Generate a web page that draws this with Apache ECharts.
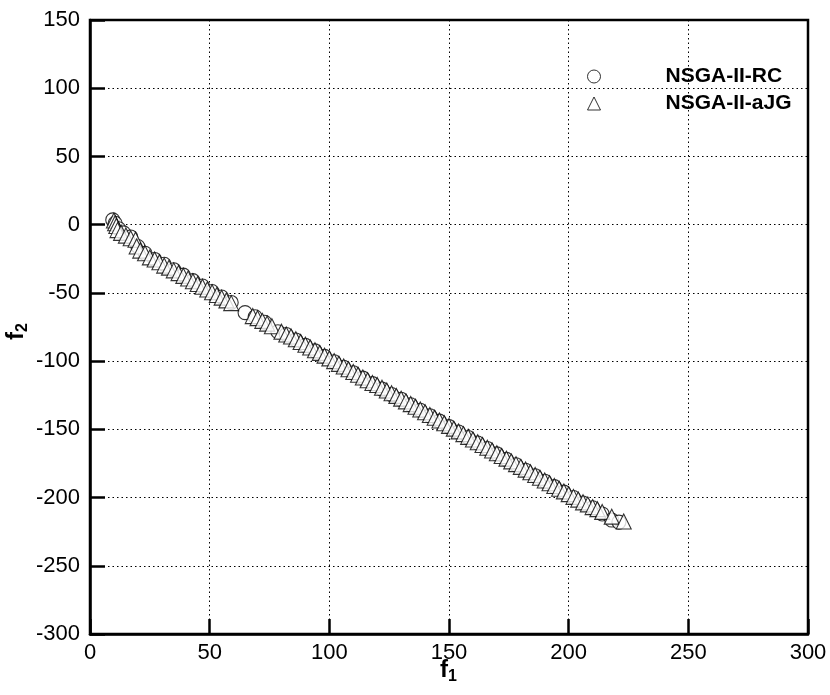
<!DOCTYPE html>
<html>
<head>
<meta charset="utf-8">
<script src="https://cdn.jsdelivr.net/npm/echarts@6/dist/echarts.min.js"></script>
<style>
  html, body { margin: 0; padding: 0; background: #fff; }
  #chart { width: 830px; height: 695px; }
</style>
</head>
<body>
<div id="chart"></div>
<script>
// Pareto front points, objective f1 vs objective f2
const rcF1 = [9.5, 10.5, 12, 14, 17, 20, 23, 27, 31, 35, 39, 43, 47, 51, 55, 59, 64.8, 69, 73, 78.5,
  82, 86, 90, 94, 98, 102, 106, 110, 114, 118, 122, 126, 130, 134, 138, 142, 146, 150, 154, 158,
  162, 166, 170, 174, 178, 182, 186, 190, 194, 198, 202, 206, 210, 214, 218, 221];
const rcF2 = [3.5, 1, -3, -6, -9, -16, -21, -25.5, -29, -33, -37, -41, -45, -49, -53, -57, -64.5, -67.5, -71.5, -78.5,
  -80.5, -84.5, -88.5, -92.5, -96.5, -100.5, -104.5, -108.5, -112.5, -116.5, -120.5, -124.5, -128, -132, -136, -140, -144, -148, -152, -156,
  -160, -164, -168, -172, -176, -180, -184, -188, -192, -196, -200, -204, -207.5, -212, -216.5, -218];

const jgF1 = [10, 10.5, 11, 11.5, 13, 15, 17, 19, 19.5, 21, 23, 25, 27, 29, 31, 33, 35, 37, 39, 41,
  43, 45, 47, 49, 51, 53, 55, 57, 59, 68, 70, 72, 74, 76, 80, 82, 84, 86, 88, 90,
  92, 94, 96, 98, 100, 102, 104, 106, 108, 110, 112, 114, 116, 118, 120, 122, 124, 126, 128, 130,
  132, 134, 136, 138, 140, 142, 144, 146, 148, 150, 152, 154, 156, 158, 160, 162, 164, 166, 168, 170,
  172, 174, 176, 178, 180, 182, 184, 186, 188, 190, 192, 194, 196, 198, 200, 202, 204, 206, 208, 210,
  212, 214, 218, 223];
const jgF2 = [3, 1, -1, -4, -6, -8, -10, -11, -16, -19, -21, -24, -25.5, -27.5, -30, -31.5, -33.5, -35.5, -37.5, -39.5,
  -41.5, -43.5, -45.5, -47.5, -49.5, -51.5, -53.5, -55.5, -57.5, -67, -68.5, -70.5, -72.5, -74.5, -78.5, -80.5, -82, -84, -86, -88,
  -90, -92, -94, -96, -98, -100, -102, -104, -106, -108, -110, -112, -114, -116, -117.5, -119.5, -121.5, -123.5, -125.5, -127.5,
  -129.5, -131.5, -133.5, -135.5, -137.5, -139.5, -141.5, -143.5, -145.5, -147.5, -149.5, -151.5, -153.5, -155.5, -157.5, -159.5, -161.5, -163.5, -165.5, -167.5,
  -169.5, -171.5, -173.5, -175.5, -177.5, -179.5, -181.5, -183.5, -185.5, -187.5, -189.5, -191.5, -193.5, -195.5, -197.5, -199.5, -201.5, -203.5, -205, -207,
  -208.5, -210.5, -214, -217.5];

const seriesNames = ['NSGA-II-RC', 'NSGA-II-aJG'];

const pairs = (xs, ys) => xs.map((x, i) => [x, ys[i]]);

const chart = echarts.init(document.getElementById('chart'));
const FONT = 'Liberation Sans, Arial, Helvetica, sans-serif';
const axisCommon = {
  axisLine: { show: true, onZero: false, lineStyle: { color: '#000', width: 2.5 } },
  axisTick: { show: true, inside: true, length: 15, lineStyle: { color: '#000', width: 2.5 } },
  splitLine: { show: true, lineStyle: { color: '#000', width: 1, type: [1.5, 3] } },
  axisLabel: { color: '#000', fontSize: 22, fontFamily: FONT },
};
const titleRich = {
  a: { fontSize: 24, fontWeight: 'bold', fontFamily: FONT, fill: '#000' },
  b: { fontSize: 16, fontWeight: 'bold', fontFamily: FONT, fill: '#000', padding: [13, 0, 0, 0] }
};

chart.setOption({
  animation: false,
  backgroundColor: '#fff',
  grid: { left: 90, top: 20, right: 22, bottom: 61, show: true, borderColor: '#000', borderWidth: 2.5, containLabel: false },
  xAxis: Object.assign({ type: 'value', min: 0, max: 300, interval: 50 }, axisCommon,
    { axisLabel: Object.assign({}, axisCommon.axisLabel, { margin: 8 }) }),
  yAxis: Object.assign({ type: 'value', min: -300, max: 150, interval: 50 }, axisCommon,
    { axisLabel: Object.assign({}, axisCommon.axisLabel, { margin: 10 }) }),
  legend: {
    orient: 'vertical',
    left: 582, top: 61,
    itemWidth: 13, itemHeight: 13, itemGap: 6,
    data: [
      { name: seriesNames[0], icon: 'circle' },
      { name: seriesNames[1], icon: 'triangle' }
    ],
    textStyle: { color: '#000', fontSize: 21, fontWeight: 'bold', fontFamily: FONT, padding: [0, 0, 0, 60] },
    itemStyle: { color: '#fff', borderColor: '#000', borderWidth: 1 }
  },
  graphic: [
    {
      type: 'text', left: 440, top: 658,
      style: { text: '{a|f}{b|1}', rich: titleRich }
    },
    {
      type: 'text', x: 2, y: 340, rotation: Math.PI / 2,
      style: { text: '{a|f}{b|2}', rich: titleRich }
    }
  ],
  series: [
    {
      name: seriesNames[0], type: 'scatter', symbol: 'circle', symbolSize: 14,
      itemStyle: { color: '#fff', borderColor: '#000', borderWidth: 1.1 },
      data: pairs(rcF1, rcF2)
    },
    {
      name: seriesNames[1], type: 'scatter', symbol: 'triangle', symbolSize: 15,
      itemStyle: { color: '#fff', borderColor: '#000', borderWidth: 1.1 },
      data: pairs(jgF1, jgF2)
    }
  ]
});
</script>
</body>
</html>
